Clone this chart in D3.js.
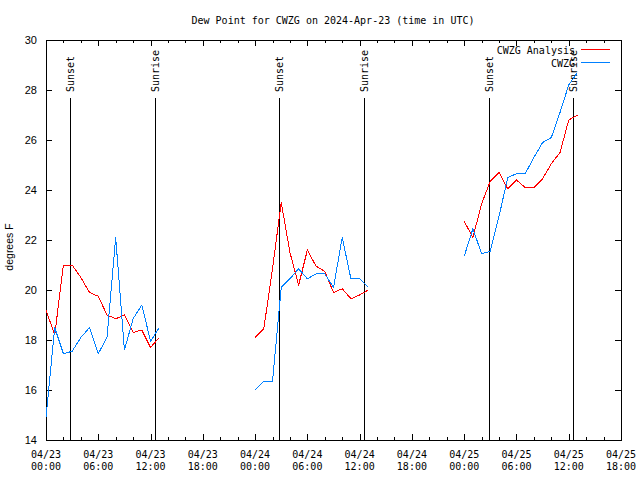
<!DOCTYPE html>
<html><head><meta charset="utf-8">
<script src="https://cdn.jsdelivr.net/npm/d3@7"></script>
<style>body{margin:0;background:#fff}svg{display:block}</style>
</head><body>
<svg id="c" width="640" height="480"></svg>
<script>
// hours after 2024-04-23 00:00 UTC
const hours = d3.range(0, 62);
const analysis = [19.2, 18.2, 21.0, 21.0, 20.5, 19.9, 19.75, 19.0, 18.85, 19.0, 18.3, 18.4, 17.7, 18.1,
  null, null, null, null, null, null, null, null, null, null,
  18.1, 18.45, 20.85, 23.5, 21.5, 20.2, 21.6, 20.95, 20.75, 19.9, 20.05, 19.65, 19.8, 20.0,
  null, null, null, null, null, null, null, null, null, null,
  22.75, 22.1, 23.45, 24.35, 24.7, 24.05, 24.4, 24.1, 24.1, 24.45, 25.05, 25.5, 26.8, 27.0];
const observed = [14.9, 18.5, 17.45, 17.55, 18.1, 18.5, 17.45, 18.1, 22.1, 17.6, 18.85, 19.4, 17.95, 18.5,
  null, null, null, null, null, null, null, null, null, null,
  16.0, 16.35, 16.35, 20.1, 20.45, 20.85, 20.45, 20.65, 20.65, 20.1, 22.1, 20.45, 20.45, 20.1,
  null, null, null, null, null, null, null, null, null, null,
  21.35, 22.45, 21.45, 21.55, 22.95, 24.5, 24.65, 24.65, 25.3, 25.9, 26.1, 27.1, 28.2, 28.7];
const sunsetHours = [2.78, 26.75, 50.8];
const sunriseHours = [12.53, 36.5, 60.47];
const yTicks = [14, 16, 18, 20, 22, 24, 26, 28, 30];
const seriesNames = ["CWZG Analysis", "CWZG"];
const seriesColors = ["#ff0000", "#0080ff"];
const titleText = "Dew Point for CWZG on 2024-Apr-23 (time in UTC)";
const yLabel = "degrees F";

const t0 = Date.UTC(2024, 3, 23);
const toDate = h => new Date(t0 + h * 3600e3);

const L = 46, R = 621, T = 40, B = 440;
const mono = "'DejaVu Sans Mono', monospace";
const sans = "'Liberation Sans', Arial, sans-serif";
const svg = d3.select("#c");

const x = d3.scaleUtc().domain([toDate(0), toDate(66)]).range([L, R]);
const y = d3.scaleLinear().domain([14, 30]).range([B, T]);

// title
svg.append("text").attr("x", 333).attr("y", 24).attr("text-anchor", "middle")
  .attr("font-family", mono).attr("font-size", 10).text(titleText);

const g = svg.append("g").attr("shape-rendering", "crispEdges").attr("stroke", "#000").attr("fill", "none");

// x ticks
const major = d3.utcHour.every(6).range(toDate(0), toDate(66.01));
const minor = d3.utcHour.every(2).range(toDate(0), toDate(66.01));
minor.forEach(d => {
  const isMajor = d.getUTCHours() % 6 === 0;
  const len = isMajor ? 6 : 3;
  const xx = Math.round(x(d)) + 0.5;
  g.append("line").attr("x1", xx).attr("x2", xx).attr("y1", B).attr("y2", B - len);
  g.append("line").attr("x1", xx).attr("x2", xx).attr("y1", T).attr("y2", T + len);
});
const fmtD = d3.utcFormat("%m/%d"), fmtH = d3.utcFormat("%H:%M");
major.forEach(d => {
  const t = svg.append("text").attr("x", x(d)).attr("text-anchor", "middle")
    .attr("font-family", mono).attr("font-size", 10);
  t.append("tspan").attr("x", x(d)).attr("y", 458).text(fmtD(d));
  t.append("tspan").attr("x", x(d)).attr("y", 470).text(fmtH(d));
});

// y ticks
yTicks.forEach(v => {
  const yy = Math.round(y(v)) + 0.5;
  g.append("line").attr("x1", L).attr("x2", L + 6).attr("y1", yy).attr("y2", yy);
  g.append("line").attr("x1", R).attr("x2", R - 6).attr("y1", yy).attr("y2", yy);
  svg.append("text").attr("x", 37).attr("y", y(v) + 4).attr("text-anchor", "end")
    .attr("font-family", sans).attr("font-size", 11).text(v);
});
svg.append("text").attr("transform", "translate(13,247) rotate(-90)").attr("text-anchor", "middle")
  .attr("font-family", sans).attr("font-size", 10.5).text(yLabel);

// border
g.append("rect").attr("x", L + 0.5).attr("y", T + 0.5).attr("width", R - L).attr("height", B - T);

// sun lines
function sunLine(h, label) {
  const xx = Math.round(x(toDate(h))) + 0.5;
  g.append("line").attr("x1", xx).attr("x2", xx).attr("y1", 98).attr("y2", B);
  svg.append("text").attr("transform", `translate(${xx + 3.5},92) rotate(-90)`)
    .attr("text-anchor", "start").attr("font-family", mono).attr("font-size", 10).text(label);
}
sunsetHours.forEach(h => sunLine(h, "Sunset"));
sunriseHours.forEach(h => sunLine(h, "Sunrise"));

// series
const line = d3.line().defined(d => d[1] != null).x(d => x(toDate(d[0]))).y(d => y(d[1]));
[analysis, observed].forEach((arr, i) => {
  svg.append("path").datum(hours.map((h, j) => [h, arr[j]]))
    .attr("d", line).attr("fill", "none").attr("stroke", seriesColors[i]).attr("stroke-width", 1)
    .attr("shape-rendering", "crispEdges");
});

// legend
seriesNames.forEach((n, i) => {
  const ly = 49.5 + i * 13;
  svg.append("text").attr("x", 575).attr("y", ly + 4).attr("text-anchor", "end")
    .attr("font-family", mono).attr("font-size", 10).text(n);
  svg.append("line").attr("x1", 581).attr("x2", 610).attr("y1", ly).attr("y2", ly)
    .attr("stroke", seriesColors[i]).attr("shape-rendering", "crispEdges");
});
</script>
</body></html>
